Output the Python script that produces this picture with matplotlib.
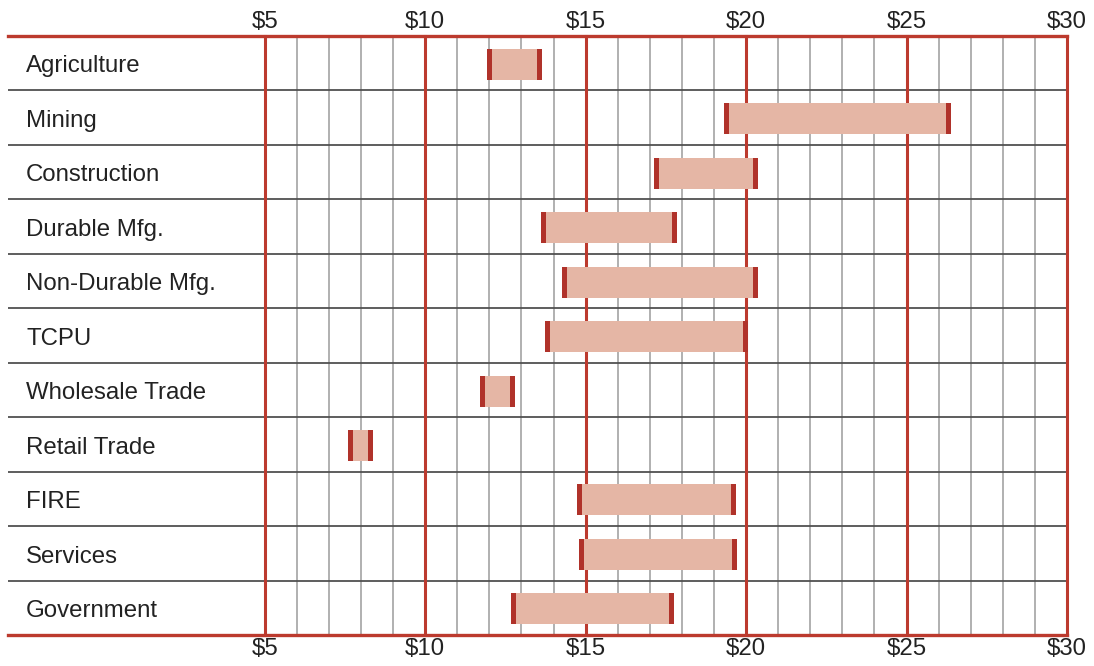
import matplotlib
matplotlib.use("Agg")
import matplotlib.pyplot as plt

plt.rcParams['font.family'] = ['Liberation Sans', 'DejaVu Sans']

categories = ["Agriculture", "Mining", "Construction", "Durable Mfg.", "Non-Durable Mfg.",
              "TCPU", "Wholesale Trade", "Retail Trade", "FIRE", "Services", "Government"]
low = [11.92, 19.31, 17.13, 13.60, 14.26, 13.73, 11.70, 7.59, 14.73, 14.79, 12.67]
high = [13.63, 26.38, 20.37, 17.84, 20.37, 20.06, 12.79, 8.37, 19.68, 19.71, 17.75]
tick_values = [5, 10, 15, 20, 25, 30]
tick_labels = ["$5", "$10", "$15", "$20", "$25", "$30"]

RED = "#BC3A2E"
CAP = "#B0322A"
FILL = "#E5B6A5"
W, H = 1094, 666

fig = plt.figure(figsize=(W / 100, H / 100), dpi=100)
ax = fig.add_axes([8 / W, (H - 635) / H, (1067 - 8) / W, (635 - 36) / H])
x0, x1 = -3.0, 30.0
ax.set_xlim(x0, x1)
n = len(categories)
ax.set_ylim(n - 0.5, -0.5)

# minor grid
for v in range(6, 30):
    if v % 5:
        ax.axvline(v, color="#AAAAAA", lw=1.3, zorder=1)
# row separators
for i in range(n - 1):
    ax.axhline(i + 0.5, color="#505050", lw=1.3, zorder=1.5)
# major red lines
for v in tick_values:
    ax.axvline(v, color=RED, lw=2.2, zorder=2, clip_on=False)

# bars
cap_w = 0.16
for i, (a, b) in enumerate(zip(low, high)):
    ax.barh(i + 0.02, b - a, left=a, height=0.57, color=FILL, zorder=3)
    ax.barh(i + 0.02, cap_w, left=a, height=0.57, color=CAP, zorder=4)
    ax.barh(i + 0.02, cap_w, left=b - cap_w, height=0.57, color=CAP, zorder=4)

# category labels
for i, c in enumerate(categories):
    ax.text(x0 + 18 / 32.08, i + 0.06, c, ha="left", va="center", fontsize=17.3, color="#222222")

for s in ["left", "right"]:
    ax.spines[s].set_visible(False)
for s in ["top", "bottom"]:
    ax.spines[s].set_color(RED)
    ax.spines[s].set_linewidth(2.4)
    ax.spines[s].set_zorder(5)

ax.set_xticks(tick_values)
ax.set_xticklabels(tick_labels)
ax.tick_params(axis="x", top=True, labeltop=True, bottom=True, labelbottom=True,
               length=0, pad=3.5, labelsize=17.3, labelcolor="#222222")
ax.tick_params(axis="x", which="major", top=True, pad=2.5)
for lab in ax.get_xticklabels(which="major"):
    pass
ax.set_yticks([])

fig.savefig("out.png", dpi=100)
